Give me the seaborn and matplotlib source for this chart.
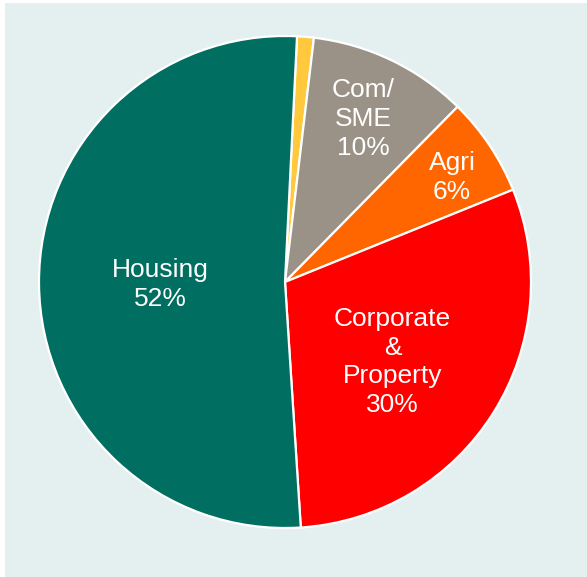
import numpy as np
import matplotlib
matplotlib.use("Agg")
import matplotlib.pyplot as plt
import seaborn as sns
from matplotlib.patches import Rectangle

sns.set_theme(style="white")
plt.rcParams['font.family'] = ['Liberation Sans', 'DejaVu Sans']

# Data (clockwise from near the top)
categories = ["Other", "Com/SME", "Agri", "Corporate & Property", "Housing"]
values = [1.1, 10.5, 6.5, 30.1, 51.8]
label_texts = ["", "Com/\nSME\n10%", "Agri\n6%", "Corporate\n&\nProperty\n30%", "Housing\n52%"]

# Styles
colors = sns.color_palette(["#FFC83D", "#9B9287", "#FF6600", "#FF0000", "#006E60"])
label_dist = [0.0, 0.735, 0.80, 0.545, 0.508]
label_ang_shift = [0.0, 0.0, -1.8, -4.5, 0.5]
bg = "#E4F0F0"

W, H = 587, 577
fig = plt.figure(figsize=(W / 100, H / 100), dpi=100, facecolor="white")
fig.patches.append(Rectangle((5 / W, 0), 1, (H - 3) / H, transform=fig.transFigure,
                             facecolor=bg, edgecolor="none", zorder=-10))

cx, cy, r = 285, 282, 246
ax = fig.add_axes([(cx - r) / W, (H - cy - r) / H, 2 * r / W, 2 * r / H])
ax.set_facecolor("none")

wedges, _ = ax.pie(values, colors=colors, startangle=87.2, counterclock=False,
                   radius=1.0, wedgeprops=dict(edgecolor="white", linewidth=1.6))

for w, txt, d, s in zip(wedges, label_texts, label_dist, label_ang_shift):
    if not txt:
        continue
    ang = np.deg2rad((w.theta1 + w.theta2) / 2 + s)
    ax.text(d * np.cos(ang), d * np.sin(ang), txt, ha="center", va="center",
            color="white", fontsize=19, linespacing=1.26)

ax.set_xlim(-1, 1)
ax.set_ylim(-1, 1)
ax.axis("off")

fig.savefig("out.png", dpi=100, facecolor=fig.get_facecolor())
